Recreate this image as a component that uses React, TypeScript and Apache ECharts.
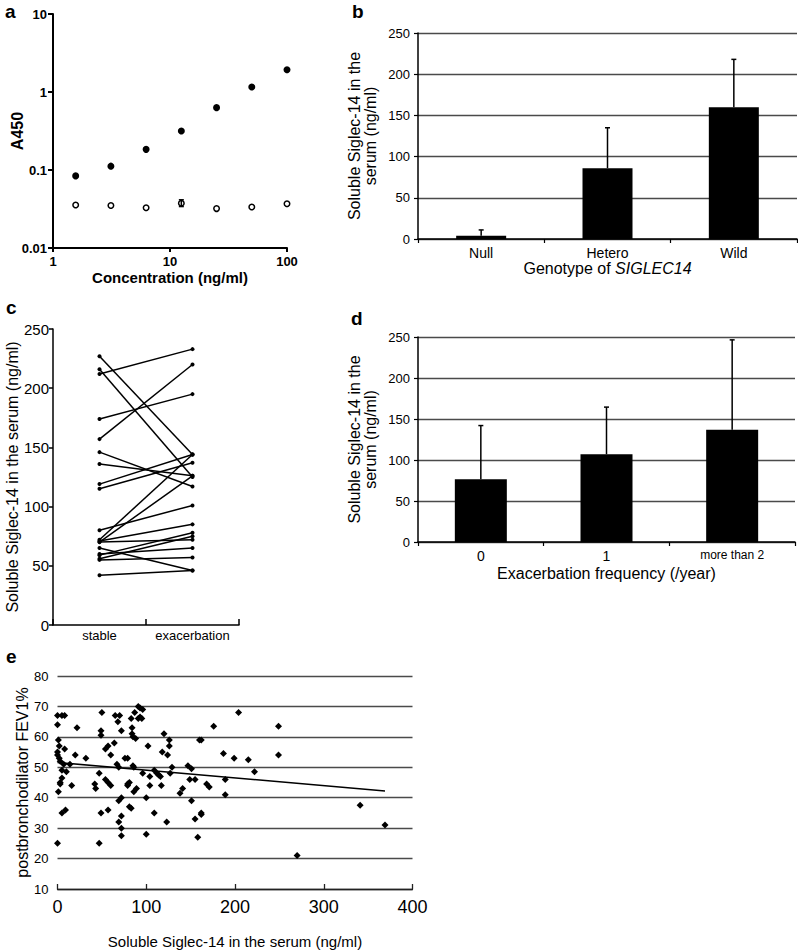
import React, { useEffect, useRef } from 'react';
import * as echarts from 'echarts';

const FONT = '"Liberation Sans", Arial, Helvetica, sans-serif';

// ---------- Panel a ----------
const concentrations = [1.5625, 3.125, 6.25, 12.5, 25, 50, 100];
const a450Filled = [0.084, 0.112, 0.184, 0.316, 0.63, 1.16, 1.93];
const a450Open = [0.0356, 0.035, 0.0328, 0.0375, 0.032, 0.0335, 0.037];
const a450OpenErr = [[12.5, 0.034, 0.0415]];

// ---------- Panel b ----------
const genotypes = ['Null', 'Hetero', 'Wild'];
const genotypeMeans = [4, 86, 160];
const genotypeErrTop = [11, 135, 218];

// ---------- Panel c ----------
const conditions = ['stable', 'exacerbation'];
const stableValues = [212, 227, 216, 174, 157, 146, 136, 119, 115, 80, 72, 70, 71, 70, 65, 59, 56, 55, 60, 42];
const exacerbationValues = [233, 144, 125, 195, 220, 117, 126, 144, 137, 101, 144, 126, 85, 72, 46, 78, 75, 57, 65, 46];

// ---------- Panel d ----------
const frequencies = ['0', '1', 'more than 2'];
const freqMeans = [76.5, 107, 137];
const freqErrTop = [142, 164.5, 246.5];

// ---------- Panel e ----------
const scatterPoints = [
  [0, 67], [5, 67], [8, 67], [0, 64], [22, 63], [50, 68], [65, 67], [70, 67], [72, 62], [68, 65],
  [49, 62], [49, 60.5], [1, 59], [2, 57], [0, 55], [0, 54], [2, 53], [8, 56], [20, 54], [32, 53],
  [54, 56], [57, 57], [64, 58], [60, 54], [79, 53], [3, 52], [7, 51], [14, 51], [5, 49], [10, 48.5],
  [67, 51], [69, 50], [5, 46.5], [3, 45], [3, 44.5], [16, 44], [1, 42], [47, 48], [42, 44.5], [43, 43],
  [54, 46], [57, 45], [60, 44], [79, 44], [72, 40], [69, 39], [5, 35], [9, 36], [49, 35], [57, 36],
  [72, 34], [69, 32], [72, 30], [72, 27.5], [81, 37], [0, 25], [47, 25],
  [91, 70], [93, 69.5], [96, 69], [87, 68], [83, 66], [91, 66], [93, 66.5], [95, 66], [84, 63],
  [84, 61], [85, 60], [88, 59.5], [76, 53], [102, 57], [120, 61], [126, 59], [126, 57], [118, 55],
  [124, 54], [162, 59], [85, 50.5], [86, 50], [79, 44.5], [81, 45], [89, 43], [86, 42], [96, 48],
  [104, 47], [104, 44], [109, 49], [112, 48], [114, 47.5], [116, 47], [117, 44], [129, 50], [127, 48],
  [147, 50.5], [151, 49.5], [149, 46], [155, 46], [138, 41.5], [141, 43], [151, 39], [100, 40],
  [83, 36.5], [109, 35], [123, 32], [155, 33], [162, 34.5], [100, 28], [158, 27],
  [160, 59], [176, 63.5], [204, 68], [249, 63.5], [187, 54.5], [199, 53], [215, 52.5], [249, 54],
  [222, 48.5], [168, 44.5], [171, 43.5], [189, 46], [189, 41], [162, 35], [270, 21], [341, 37.5], [369, 31],
];
const regressionLine = [[0, 51.6], [369, 42.2]];

const BLACK = '#000';
const GRID_GRAY = '#4a4a4a';

function errorBarSeries(xi: number, yi: number, data: number[][], bothCaps: boolean, cap: number) {
  return {
    type: 'custom',
    xAxisIndex: xi,
    yAxisIndex: yi,
    silent: true,
    z: 5,
    encode: { x: 0, y: [1, 2] },
    data,
    renderItem: (params: any, api: any) => {
      const lo = api.coord([api.value(0), api.value(1)]);
      const hi = api.coord([api.value(0), api.value(2)]);
      const style = { stroke: BLACK, lineWidth: 1.5 };
      const children: any[] = [
        { type: 'line', shape: { x1: hi[0], y1: hi[1], x2: lo[0], y2: lo[1] }, style },
        { type: 'line', shape: { x1: hi[0] - cap, y1: hi[1], x2: hi[0] + cap, y2: hi[1] }, style },
      ];
      if (bothCaps) {
        children.push({ type: 'line', shape: { x1: lo[0] - cap, y1: lo[1], x2: lo[0] + cap, y2: lo[1] }, style });
      }
      return { type: 'group', children };
    },
  };
}

export default function App() {
  const ref = useRef<HTMLDivElement>(null);

  useEffect(() => {
    if (!ref.current) return;
    const chart = echarts.init(ref.current, undefined, { renderer: 'svg' });

    const txt = { fontFamily: FONT, color: BLACK };
    const logFmt = (v: number) => String(Number(v.toPrecision(3)));

    const option: any = {
      animation: false,
      backgroundColor: '#fff',
      textStyle: { fontFamily: FONT, color: BLACK },
      grid: [
        { left: 53, top: 14, width: 234, height: 234 },
        { left: 418, top: 33, width: 379, height: 206 },
        { left: 53, top: 329, width: 186, height: 296 },
        { left: 418, top: 337, width: 377, height: 205 },
        { left: 57.5, top: 676, width: 355, height: 214 },
      ],
      xAxis: [
        {
          gridIndex: 0, type: 'log', logBase: 10, min: 1, max: 100,
          axisLine: { show: true, lineStyle: { color: BLACK, width: 2 } },
          axisTick: { show: true, length: 4, lineStyle: { color: BLACK, width: 2 } },
          minorTick: { show: false },
          splitLine: { show: false },
          axisLabel: { ...txt, fontSize: 13, fontWeight: 'bold', margin: 7, formatter: logFmt },
          name: 'Concentration (ng/ml)', nameLocation: 'middle', nameGap: 22,
          nameTextStyle: { ...txt, fontSize: 15, fontWeight: 'bold' },
        },
        {
          gridIndex: 1, type: 'category', data: genotypes, boundaryGap: true,
          axisLine: { show: true, lineStyle: { color: BLACK, width: 1.5 } },
          axisTick: { show: true, alignWithLabel: false, length: 4, lineStyle: { color: BLACK, width: 1.2 } },
          axisLabel: { ...txt, fontSize: 14, margin: 7, interval: 0 },
          name: '{n|Genotype of }{i|SIGLEC14}', nameLocation: 'middle', nameGap: 20,
          nameTextStyle: {
            ...txt, fontSize: 16,
            rich: { n: { fontFamily: FONT, fontSize: 16, color: BLACK }, i: { fontFamily: FONT, fontSize: 16, fontStyle: 'italic', color: BLACK } },
          },
        },
        {
          gridIndex: 2, type: 'category', data: conditions, boundaryGap: true,
          axisLine: { show: true, lineStyle: { color: BLACK, width: 1.5 } },
          axisTick: { show: true, inside: true, alignWithLabel: false, interval: 0, length: 6, lineStyle: { color: BLACK, width: 1.5 } },
          axisLabel: { ...txt, fontSize: 13, margin: 4, interval: 0 },
        },
        {
          gridIndex: 3, type: 'category', data: frequencies, boundaryGap: true,
          axisLine: { show: true, lineStyle: { color: BLACK, width: 1.5 } },
          axisTick: { show: true, alignWithLabel: false, length: 4, lineStyle: { color: BLACK, width: 1.2 } },
          axisLabel: {
            ...txt, fontSize: 14, margin: 7, interval: 0,
            formatter: (v: string) => (v.length > 3 ? '{s|' + v + '}' : v),
            rich: { s: { fontFamily: FONT, fontSize: 12, color: BLACK } },
          },
          name: 'Exacerbation frequency (/year)', nameLocation: 'middle', nameGap: 23,
          nameTextStyle: { ...txt, fontSize: 16 },
        },
        {
          gridIndex: 4, type: 'value', min: 0, max: 400, interval: 100,
          axisLine: { show: true, lineStyle: { color: '#222', width: 1.3 } },
          axisTick: { show: true, inside: true, length: 5, lineStyle: { color: '#222', width: 1.3 } },
          splitLine: { show: false },
          axisLabel: { ...txt, fontSize: 18, margin: 9 },
          name: 'Soluble Siglec-14 in the serum (ng/ml)', nameLocation: 'middle', nameGap: 45,
          nameTextStyle: { ...txt, fontSize: 15 },
        },
      ],
      yAxis: [
        {
          gridIndex: 0, type: 'log', logBase: 10, min: 0.01, max: 10,
          axisLine: { show: true, lineStyle: { color: BLACK, width: 2 } },
          axisTick: { show: true, length: 5, lineStyle: { color: BLACK, width: 2 } },
          minorTick: { show: false },
          splitLine: { show: false },
          axisLabel: { ...txt, fontSize: 13, fontWeight: 'bold', margin: 6, formatter: logFmt },
          name: 'A450', nameLocation: 'middle', nameGap: 28, nameRotate: 90, nameMoveOverlap: false,
          nameTextStyle: { ...txt, fontSize: 16, fontWeight: 'bold' },
        },
        {
          gridIndex: 1, type: 'value', min: 0, max: 250, interval: 50,
          axisLine: { show: true, lineStyle: { color: BLACK, width: 1.5 } },
          axisTick: { show: true, length: 4, lineStyle: { color: BLACK, width: 1.2 } },
          splitLine: { show: true, lineStyle: { color: GRID_GRAY, width: 1.3 } },
          axisLabel: { ...txt, fontSize: 13, margin: 8 },
          name: 'Soluble Siglec-14 in the\nserum (ng/ml)', nameLocation: 'middle', nameGap: 40, nameRotate: 90,
          nameTextStyle: { ...txt, fontSize: 16, lineHeight: 16 },
        },
        {
          gridIndex: 2, type: 'value', min: 0, max: 250, interval: 50,
          axisLine: { show: true, lineStyle: { color: BLACK, width: 1.5 } },
          axisTick: { show: true, length: 4, lineStyle: { color: BLACK, width: 1.5 } },
          splitLine: { show: false },
          axisLabel: { ...txt, fontSize: 15, margin: 4 },
          name: 'Soluble Siglec-14 in the serum (ng/ml)', nameLocation: 'middle', nameGap: 33, nameRotate: 90,
          nameTextStyle: { ...txt, fontSize: 16 },
        },
        {
          gridIndex: 3, type: 'value', min: 0, max: 250, interval: 50,
          axisLine: { show: true, lineStyle: { color: BLACK, width: 1.5 } },
          axisTick: { show: true, length: 4, lineStyle: { color: BLACK, width: 1.2 } },
          splitLine: { show: true, lineStyle: { color: GRID_GRAY, width: 1.3 } },
          axisLabel: { ...txt, fontSize: 13, margin: 8 },
          name: 'Soluble Siglec-14 in the\nserum (ng/ml)', nameLocation: 'middle', nameGap: 40, nameRotate: 90,
          nameTextStyle: { ...txt, fontSize: 16, lineHeight: 16 },
        },
        {
          gridIndex: 4, type: 'value', min: 10, max: 80, interval: 10,
          axisLine: { show: false },
          axisTick: { show: false },
          splitLine: { show: true, lineStyle: { color: GRID_GRAY, width: 1.3 } },
          axisLabel: { ...txt, fontSize: 13, margin: 9 },
          name: 'postbronchodilator FEV1%', nameLocation: 'middle', nameGap: 27, nameRotate: 90,
          nameTextStyle: { ...txt, fontSize: 16 },
        },
      ],
      series: [
        // Panel a
        {
          type: 'scatter', xAxisIndex: 0, yAxisIndex: 0, symbol: 'circle', symbolSize: 7,
          itemStyle: { color: BLACK, opacity: 1 },
          data: concentrations.map((c, i) => [c, a450Filled[i]]),
        },
        errorBarSeries(0, 0, a450OpenErr, true, 2.5),
        {
          type: 'scatter', xAxisIndex: 0, yAxisIndex: 0, symbol: 'circle', symbolSize: 5.5, z: 6,
          itemStyle: { color: 'rgba(255,255,255,0)', borderColor: BLACK, borderWidth: 1.5, opacity: 1 },
          data: concentrations.map((c, i) => [c, a450Open[i]]),
        },
        // Panel b
        {
          type: 'bar', xAxisIndex: 1, yAxisIndex: 1, barWidth: 50,
          itemStyle: { color: BLACK },
          data: genotypeMeans,
        },
        errorBarSeries(1, 1, genotypes.map((_, i) => [i, genotypeMeans[i], genotypeErrTop[i]]), false, 2.5),
        // Panel c
        ...stableValues.map((s, i) => ({
          type: 'line', xAxisIndex: 2, yAxisIndex: 2,
          symbol: 'circle', symbolSize: 4, showSymbol: true,
          lineStyle: { color: BLACK, width: 1.5 },
          itemStyle: { color: BLACK },
          data: [s, exacerbationValues[i]],
        })),
        // Panel d
        {
          type: 'bar', xAxisIndex: 3, yAxisIndex: 3, barWidth: 52,
          itemStyle: { color: BLACK },
          data: freqMeans,
        },
        errorBarSeries(3, 3, frequencies.map((_, i) => [i, freqMeans[i], freqErrTop[i]]), false, 2.5),
        // Panel e
        {
          type: 'scatter', xAxisIndex: 4, yAxisIndex: 4, symbol: 'diamond', symbolSize: 7,
          itemStyle: { color: BLACK, opacity: 1 },
          data: scatterPoints,
        },
        {
          type: 'line', xAxisIndex: 4, yAxisIndex: 4, symbol: 'none',
          lineStyle: { color: BLACK, width: 1.5 },
          data: regressionLine,
        },
      ],
      graphic: [
        { type: 'text', left: 5, top: 2, style: { text: 'a', fontFamily: FONT, fontSize: 19, fontWeight: 'bold', fill: BLACK } },
        { type: 'text', left: 352, top: 2, style: { text: 'b', fontFamily: FONT, fontSize: 19, fontWeight: 'bold', fill: BLACK } },
        { type: 'text', left: 6, top: 298, style: { text: 'c', fontFamily: FONT, fontSize: 19, fontWeight: 'bold', fill: BLACK } },
        { type: 'text', left: 351, top: 309, style: { text: 'd', fontFamily: FONT, fontSize: 19, fontWeight: 'bold', fill: BLACK } },
        { type: 'text', left: 6, top: 647, style: { text: 'e', fontFamily: FONT, fontSize: 19, fontWeight: 'bold', fill: BLACK } },
      ],
    };

    chart.setOption(option);
    return () => chart.dispose();
  }, []);

  return (
    <div
      ref={ref}
      style={{ position: 'absolute', left: 0, top: 0, width: 798, height: 950, background: '#fff' }}
    />
  );
}
